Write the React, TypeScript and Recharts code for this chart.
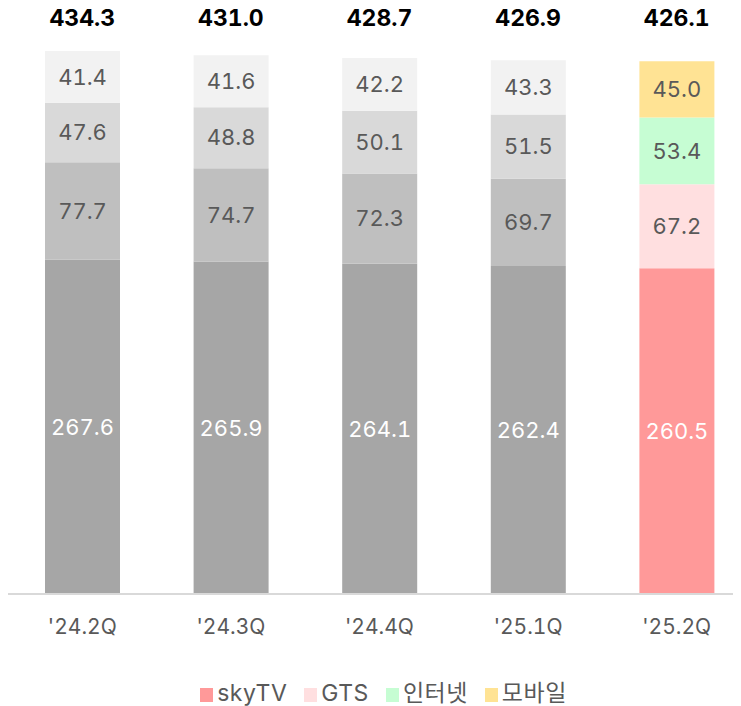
import { BarChart, Bar, XAxis, YAxis, Cell, LabelList, Legend } from 'recharts';

const quarters = ["'24.2Q", "'24.3Q", "'24.4Q", "'25.1Q", "'25.2Q"];
const skyTV = [267.6, 265.9, 264.1, 262.4, 260.5];
const gts = [77.7, 74.7, 72.3, 69.7, 67.2];
const internet = [47.6, 48.8, 50.1, 51.5, 53.4];
const mobile = [41.4, 41.6, 42.2, 43.3, 45.0];
const totals = ['434.3', '431.0', '428.7', '426.9', '426.1'];

const series = [
  { key: 'skyTV', name: 'skyTV', gray: '#a6a6a6', color: '#ff9999', label: '#ffffff' },
  { key: 'gts', name: 'GTS', gray: '#bfbfbf', color: '#ffdfe0', label: '#595959' },
  { key: 'internet', name: '인터넷', gray: '#d9d9d9', color: '#c6fdd3', label: '#595959' },
  { key: 'mobile', name: '모바일', gray: '#f2f2f2', color: '#ffe394', label: '#595959' },
];

const data = quarters.map((q, i) => ({
  quarter: q,
  total: totals[i],
  skyTV: skyTV[i],
  gts: gts[i],
  internet: internet[i],
  mobile: mobile[i],
}));

const highlight = quarters.length - 1;

function LegendContent() {
  return (
    <div
      style={{
        height: 52,
        display: 'flex',
        justifyContent: 'center',
        alignItems: 'flex-end',
        gap: 17,
        paddingLeft: 8,
        boxSizing: 'border-box',
        fontSize: 23,
        letterSpacing: 0.5,
        lineHeight: '26px',
        color: '#595959',
      }}
    >
      {series.map((s) => (
        <div key={s.key} style={{ display: 'flex', alignItems: 'center' }}>
          <span style={{ width: 13, height: 14, background: s.color, marginRight: 4, marginTop: 4, display: 'inline-block' }} />
          <span>{s.name}</span>
        </div>
      ))}
    </div>
  );
}

export default function App() {
  return (
    <div
      style={{
        width: 733,
        marginTop: -8,
        overflow: 'hidden',
        fontFamily: "Inter, 'Noto Sans CJK KR', sans-serif",
        fontVariantNumeric: 'tabular-nums',
      }}
    >
      <BarChart
        width={743}
        height={706}
        data={data}
        margin={{ top: 0, right: 0, bottom: 0, left: 0 }}
        barSize={75}
      >
        <XAxis
          xAxisId="top"
          orientation="top"
          dataKey="total"
          height={51}
          axisLine={false}
          tickLine={false}
          tickSize={0}
          tickMargin={25}
          tick={{ fill: '#000000', fontSize: 23, fontWeight: 700 }}
        />
        <XAxis
          dataKey="quarter"
          height={60}
          axisLine={{ stroke: '#d9d9d9', strokeWidth: 2 }}
          tickLine={false}
          tickSize={0}
          tickMargin={25}
          tick={{ fill: '#595959', fontSize: 21 }}
        />
        <YAxis hide domain={[0, 434.3]} />
        <Legend verticalAlign="bottom" content={<LegendContent />} />
        {series.map((s) => (
          <Bar key={s.key} dataKey={s.key} stackId="a" isAnimationActive={false}>
            {data.map((_, i) => (
              <Cell key={i} fill={i === highlight ? s.color : s.gray} />
            ))}
            <LabelList
              dataKey={s.key}
              position="center"
              formatter={(v: number) => v.toFixed(1)}
              style={{ fill: s.label, fontSize: 22 }}
            />
          </Bar>
        ))}
      </BarChart>
    </div>
  );
}
